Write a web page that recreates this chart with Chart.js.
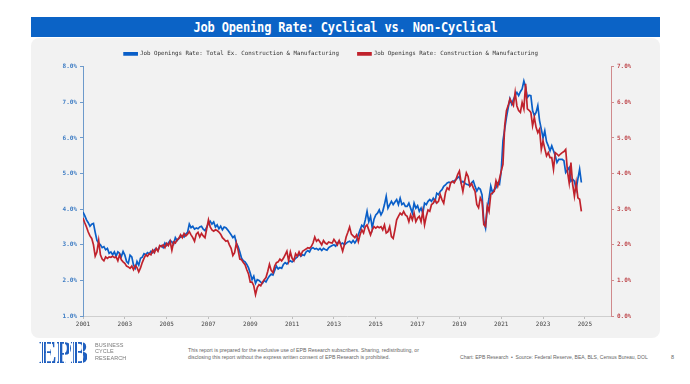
<!DOCTYPE html>
<html>
<head>
<meta charset="utf-8">
<script src="https://cdn.jsdelivr.net/npm/chart.js@4/dist/chart.umd.min.js"></script>
<style>
  html, body { margin: 0; padding: 0; background: #ffffff; }
  body { width: 690px; height: 384px; position: relative; overflow: hidden; font-family: 'Liberation Sans', Arial, sans-serif; }
  #titlebar { position: absolute; left: 31px; top: 17px; width: 629px; height: 20px; background: #0b63c6; color: #fff;
    font-family: 'DejaVu Sans Mono', monospace; font-weight: bold; font-size: 12px; line-height: 20px; text-align: center; letter-spacing: -0.15px; }
  #titlebar span { display: inline-block; transform: scaleY(1.2); }
  #panel { position: absolute; left: 31px; top: 38px; width: 629px; height: 300px; background: #f2f2f2; border-radius: 8px; }
  #chart { position: absolute; left: 31px; top: 32px; }
  #logo { position: absolute; left: 39px; top: 339px; font-family: 'Liberation Serif', serif; font-weight: bold; font-size: 31px; line-height: 28px;
    background: repeating-linear-gradient(90deg, #1f5fbf 0px, #1f5fbf 2.2px, #ffffff 2.2px, #ffffff 3px);
    -webkit-background-clip: text; background-clip: text; color: transparent; transform: scaleX(0.86); transform-origin: left top; letter-spacing: -1.5px; }
  #logotext { position: absolute; left: 95px; top: 342px; font-size: 5.5px; line-height: 6.3px; color: #7a7a7a; letter-spacing: 0.1px; }
  #disclaimer { position: absolute; left: 188px; top: 346.5px; font-size: 5.2px; line-height: 7px; color: #666; }
  #source { position: absolute; left: 460px; top: 354px; font-size: 5.05px; color: #666; white-space: nowrap; }
  #page { position: absolute; left: 671px; top: 354px; font-size: 5.5px; color: #666; }
</style>
</head>
<body>
<div id="titlebar"><span>Job Opening Rate: Cyclical vs. Non-Cyclical</span></div>
<div id="panel"></div>
<canvas id="chart" width="629" height="306"></canvas>
<div id="logo">EPB</div>
<div id="logotext">BUSINESS<br>CYCLE<br>RESEARCH</div>
<div id="disclaimer">This report is prepared for the exclusive use of EPB Research subscribers. Sharing, redistributing, or<br>disclosing this report without the express written consent of EPB Research is prohibited.</div>
<div id="source">Chart: EPB Research &nbsp;•&nbsp; Source: Federal Reserve, BEA, BLS, Census Bureau, DOL</div>
<div id="page">8</div>
<script>
// Monthly series, starting January 2001 and ending November 2024
const startYear = 2001;
const seriesNames = [
  'Job Openings Rate: Total Ex. Construction & Manufacturing',
  'Job Openings Rate: Construction & Manufacturing'
];
// Left axis (%): Total ex. construction & manufacturing
const totalExCM = [
  3.92,3.82,3.70,3.62,3.52,3.58,3.60,3.35,3.12,3.05,3.00,2.92, // 2001
  2.95,2.86,2.90,2.76,2.80,2.72,2.80,2.68,2.80,2.76,2.67,2.81, // 2002
  2.71,2.53,2.48,2.71,2.66,2.43,2.34,2.53,2.43,2.62,2.65,2.75, // 2003
  2.72,2.78,2.75,2.82,2.78,2.86,2.90,2.84,2.95,2.98,2.92,3.05, // 2004
  2.98,3.05,3.12,3.08,3.02,3.20,3.12,3.18,3.22,3.26,3.22,3.30, // 2005
  3.35,3.58,3.48,3.52,3.44,3.47,3.45,3.50,3.52,3.44,3.40,3.50, // 2006
  3.60,3.66,3.58,3.64,3.50,3.56,3.45,3.52,3.42,3.50,3.48,3.42, // 2007
  3.35,3.28,3.20,3.25,3.05,2.95,2.80,2.62,2.55,2.52,2.45,2.35, // 2008
  2.20,2.02,2.12,1.92,2.02,2.00,1.95,1.92,2.00,1.96,2.05,2.12, // 2009
  2.18,2.15,2.28,2.40,2.32,2.36,2.34,2.45,2.50,2.46,2.52,2.55, // 2010
  2.52,2.56,2.62,2.66,2.74,2.68,2.72,2.70,2.80,2.84,2.80,2.90, // 2011
  2.92,2.88,2.90,2.86,2.90,2.84,2.90,2.87,2.85,2.92,2.95,2.98, // 2012
  3.00,2.96,3.05,3.10,3.02,3.05,3.00,3.04,3.08,3.10,3.05,3.12, // 2013
  3.05,3.13,3.28,3.42,3.55,3.50,3.70,3.94,3.65,3.80,3.47,3.72, // 2014
  3.84,3.89,3.98,3.84,3.94,4.13,4.36,4.03,4.13,4.22,4.13,4.20, // 2015
  4.27,4.13,4.31,4.13,4.17,4.08,4.08,4.17,4.03,3.89,4.17,4.03, // 2016
  4.10,3.94,4.03,3.89,4.17,4.13,4.22,4.27,4.22,4.31,4.22,4.45, // 2017
  4.41,4.50,4.55,4.64,4.68,4.74,4.76,4.74,4.78,4.80,4.83,4.88, // 2018
  4.92,4.74,4.78,4.74,4.70,4.69,4.65,4.74,4.79,4.64,4.51,4.60, // 2019
  4.56,4.40,3.66,3.47,4.04,4.30,4.65,4.46,4.55,4.60,4.74,4.70, // 2020
  5.07,5.92,6.25,6.58,6.85,7.10,6.95,7.08,7.19,7.28,7.19,7.30, // 2021
  7.38,7.60,7.43,7.14,7.20,7.19,6.77,6.63,6.72,6.91,6.49,6.25, // 2022
  6.00,6.20,5.90,5.78,5.64,5.78,5.64,5.50,5.31,5.40,5.40,5.40, // 2023
  5.36,5.03,5.10,5.17,4.79,4.84,4.79,4.56,4.85,5.12,4.75       // 2024
];
// Right axis (%): Construction & manufacturing
const constrManuf = [
  2.75,2.62,2.50,2.36,2.25,2.18,2.00,1.68,1.80,2.12,1.72,1.60, // 2001
  1.55,1.66,1.62,1.66,1.65,1.68,1.64,1.66,1.55,1.72,1.58,1.52, // 2002
  1.48,1.40,1.38,1.34,1.40,1.30,1.42,1.36,1.24,1.35,1.50,1.62, // 2003
  1.72,1.68,1.75,1.72,1.85,1.78,1.90,1.82,1.98,1.95,2.00,1.92, // 2004
  2.04,1.98,2.10,1.85,2.08,2.05,2.14,2.18,2.28,2.20,2.32,2.25, // 2005
  2.30,2.37,2.28,2.20,2.10,2.30,2.35,2.22,2.32,2.25,2.20,2.45, // 2006
  2.70,2.50,2.42,2.38,2.42,2.40,2.36,2.30,2.20,2.15,2.10,2.12, // 2007
  2.00,1.90,1.70,1.78,2.05,1.85,1.60,1.58,1.50,1.44,1.30,1.18, // 2008
  0.95,0.95,0.85,0.60,0.80,0.88,0.85,0.95,1.02,1.08,1.25,1.45, // 2009
  1.28,1.22,1.40,1.50,1.52,1.60,1.55,1.62,1.72,1.82,1.55,1.80, // 2010
  1.62,1.55,1.75,1.68,1.80,1.70,1.82,1.85,1.88,1.92,1.90,1.95, // 2011
  2.05,2.22,2.10,2.15,2.08,2.00,2.12,2.05,2.02,2.08,2.06,2.05, // 2012
  2.15,2.08,2.00,2.12,1.98,1.82,2.00,2.22,2.35,2.50,2.30,2.25, // 2013
  2.20,2.28,2.09,2.28,2.42,2.33,2.51,2.56,2.42,2.28,2.42,2.51, // 2014
  2.47,2.51,2.48,2.51,2.42,2.56,2.33,2.37,2.51,2.23,2.18,2.42, // 2015
  2.70,2.80,2.89,2.84,2.94,2.84,2.80,2.65,2.84,2.70,2.89,2.65, // 2016
  2.75,2.80,2.65,2.94,2.56,2.80,2.98,2.94,3.13,3.17,3.27,3.17, // 2017
  3.22,3.41,3.27,3.17,3.46,3.60,3.55,3.74,3.78,3.74,3.83,3.97, // 2018
  4.07,3.74,3.50,3.78,4.02,3.92,3.65,3.72,3.60,3.50,3.13,3.04, // 2019
  3.32,3.22,2.57,2.52,3.09,2.94,3.42,3.46,3.50,3.80,3.65,3.85, // 2020
  4.07,4.26,5.34,5.77,5.91,6.10,6.00,5.91,6.28,5.90,5.77,5.72, // 2021
  6.00,5.82,6.52,5.82,5.78,5.72,5.34,5.58,5.30,5.15,5.25,4.68, // 2022
  4.92,4.70,4.50,4.59,4.45,4.45,4.12,4.59,4.55,4.50,4.55,4.59, // 2023
  4.62,4.68,4.07,3.74,4.31,3.70,3.37,3.74,3.32,3.28,2.94       // 2024
];
const xTickYears = [2001,2003,2005,2007,2009,2011,2013,2015,2017,2019,2021,2023,2025];
const leftTicks = [1,2,3,4,5,6,7,8];
const rightTicks = [0,1,2,3,4,5,6,7];

const toPoints = arr => arr.map((v, i) => ({ x: startYear + i / 12, y: v }));
const mono = 'DejaVu Sans Mono';

new Chart(document.getElementById('chart'), {
  type: 'line',
  data: {
    datasets: [
      { label: seriesNames[0], data: toPoints(totalExCM), yAxisID: 'y', borderColor: '#0a5fc8', backgroundColor: '#0a5fc8',
        borderWidth: 1.7, pointRadius: 0, tension: 0, order: 1 },
      { label: seriesNames[1], data: toPoints(constrManuf), yAxisID: 'y1', borderColor: '#c0222c', backgroundColor: '#c0222c',
        borderWidth: 1.7, pointRadius: 0, tension: 0, order: 0 }
    ]
  },
  options: {
    responsive: false,
    animation: false,
    layout: { padding: { left: 0, right: 29, top: 0, bottom: 0 } },
    plugins: {
      tooltip: { enabled: false },
      legend: {
        position: 'top',
        labels: { boxWidth: 13, boxHeight: 2, padding: 19, color: '#333', font: { family: mono, size: 5.8 },
          sort: (a, b) => a.datasetIndex - b.datasetIndex }
      }
    },
    scales: {
      x: {
        type: 'linear', min: 2001, max: 2026.25,
        afterBuildTicks: s => { s.ticks = xTickYears.map(v => ({ value: v })); },
        afterFit: s => { s.height = 22; },
        ticks: { autoSkip: false, maxRotation: 0, padding: 2, color: '#444', font: { family: mono, size: 6 }, callback: v => String(v) },
        grid: { display: true, drawOnChartArea: false, drawTicks: true, tickLength: 3, color: '#bdbdbd' },
        border: { display: true, color: '#cfcfcf', width: 1 }
      },
      y: {
        position: 'left', min: 1, max: 8,
        afterBuildTicks: s => { s.ticks = leftTicks.map(v => ({ value: v })); },
        afterFit: s => { s.width = 52; },
        ticks: { color: '#3d7cc4', padding: 3, font: { family: mono, size: 6, weight: 'bold' }, callback: v => v.toFixed(1) + '%' },
        grid: { display: true, drawOnChartArea: false, drawTicks: true, tickLength: 3, color: '#6d9acb' },
        border: { display: true, color: '#6d9acb', width: 1 }
      },
      y1: {
        position: 'right', min: 0, max: 7,
        afterBuildTicks: s => { s.ticks = rightTicks.map(v => ({ value: v })); },
        afterFit: s => { s.width = 20; },
        ticks: { color: '#bf4a4f', padding: 3, font: { family: mono, size: 6, weight: 'bold' }, callback: v => v.toFixed(1) + '%' },
        grid: { display: true, drawOnChartArea: false, drawTicks: true, tickLength: 3, color: '#d08a8c' },
        border: { display: true, color: '#d08a8c', width: 1 }
      }
    }
  }
});
</script>
</body>
</html>
